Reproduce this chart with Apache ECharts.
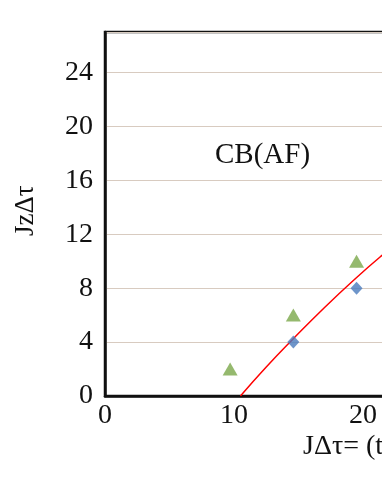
<!DOCTYPE html>
<html>
<head>
<meta charset="utf-8">
<script src="https://cdn.jsdelivr.net/npm/echarts@6/dist/echarts.min.js"></script>
<style>
    html, body {margin: 0; padding: 0; background: #fff; overflow: hidden;}
    #myChart {width: 540px; height: 494px;}
</style>
</head>
<body>
<div id="myChart"></div>
<script>
// data
var triangleData = [[9.7, 2], [14.6, 6], [19.5, 10]];
var diamondData = [[14.6, 4], [19.5, 8]];
// red fit curve
var fitData = [[10.5, 0], [12.5, 2.15], [14.6, 4.25], [17.0, 6.55], [19.4, 8.7], [21.5, 10.45], [23.5, 12.0]];
var xTicks = [0, 10, 20, 30];
var yTicks = [0, 4, 8, 12, 16, 20, 24];

var serif = 'Liberation Serif';
// the chart is wider than the window, the right part is cut off like the original
var myChart = echarts.init(document.getElementById('myChart'));

var option = {
    animation: false,
    backgroundColor: '#fff',
    grid: {
        left: 105,
        top: 32,
        width: 387,
        height: 364,
        show: true,
        borderColor: '#111',
        borderWidth: 2.5,
        backgroundColor: 'transparent'
    },
    xAxis: {
        type: 'value',
        min: 0,
        max: 30,
        interval: 10,
        axisLine: {show: true, lineStyle: {color: '#111', width: 2.5}},
        axisTick: {show: false},
        splitLine: {show: false},
        axisLabel: {
            fontFamily: serif, fontSize: 28, color: '#111', margin: 6,
            formatter: function (v) {
                return xTicks.indexOf(v) >= 0 ? String(v) : '';
            }
        }
    },
    yAxis: {
        type: 'value',
        min: 0,
        max: 27,
        interval: 4,
        axisLine: {show: true, lineStyle: {color: '#111', width: 2.5}},
        axisTick: {show: false},
        splitLine: {show: true, lineStyle: {color: '#d8cbc0', width: 1.2}},
        axisLabel: {
            fontFamily: serif, fontSize: 28, color: '#111', margin: 12,
            formatter: function (v) {
                return yTicks.indexOf(v) >= 0 ? String(v) : '';
            }
        }
    },
    graphic: [
        {
            type: 'text', left: 215, top: 141,
            style: {text: 'CB(AF)', font: '29px "Liberation Serif"', fill: '#111'}
        },
        {
            type: 'text', left: 303, top: 433,
            style: {text: 'JΔτ= (tΔτ)', font: '28px "Liberation Serif"', fill: '#111'}
        },
        {
            type: 'text', x: 12, y: 236, rotation: Math.PI / 2,
            style: {text: 'JzΔτ', font: '27px "Liberation Serif"', fill: '#111'}
        }
    ],
    series: [
        {
            name: 'fit',
            type: 'line',
            data: fitData,
            smooth: true,
            showSymbol: false,
            lineStyle: {color: '#ff0000', width: 1.5},
            z: 2
        },
        {
            name: 'triangle',
            type: 'scatter',
            data: triangleData,
            symbol: 'triangle',
            symbolSize: [15, 13],
            itemStyle: {color: '#7aa84a'},
            z: 3
        },
        {
            name: 'diamond',
            type: 'scatter',
            data: diamondData,
            symbol: 'diamond',
            symbolSize: [12, 13],
            itemStyle: {color: '#4a7bbd'},
            z: 3
        }
    ]
};
myChart.setOption(option);
</script>
</body>
</html>
